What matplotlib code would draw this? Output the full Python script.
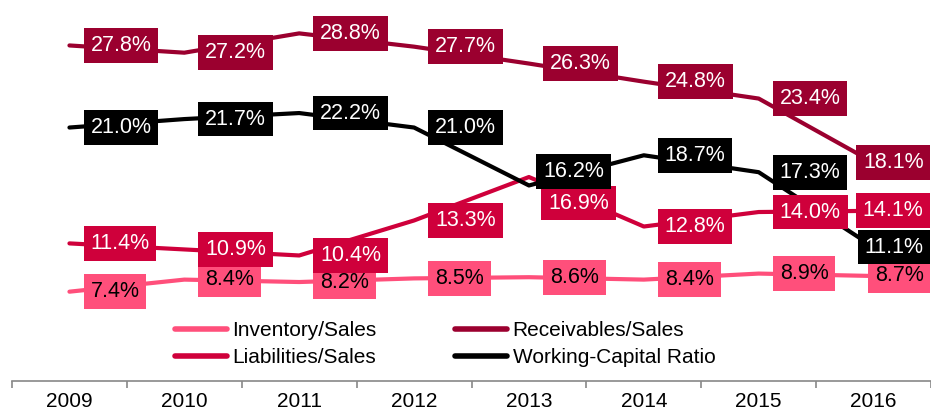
import matplotlib.pyplot as plt
import numpy as np

plt.rcParams['font.family'] = ['Liberation Sans', 'DejaVu Sans']

years = ['2009', '2010', '2011', '2012', '2013', '2014', '2015', '2016']
inventory = [7.4, 8.4, 8.2, 8.5, 8.6, 8.4, 8.9, 8.7]
receivables = [27.8, 27.2, 28.8, 27.7, 26.3, 24.8, 23.4, 18.1]
liabilities = [11.4, 10.9, 10.4, 13.3, 16.9, 12.8, 14.0, 14.1]
working_capital = [21.0, 21.7, 22.2, 21.0, 16.2, 18.7, 17.3, 11.1]

series = [
    ('Inventory/Sales', inventory, '#FF4F7B', 'black'),
    ('Receivables/Sales', receivables, '#9B002F', 'white'),
    ('Liabilities/Sales', liabilities, '#CF003B', 'white'),
    ('Working-Capital Ratio', working_capital, '#000000', 'white'),
]

# label offsets in pixels (dx, dy) for the few labels that were moved
special = {('Liabilities/Sales', 4): (19, -26), ('Working-Capital Ratio', 4): (14, 14)}

fig = plt.figure(figsize=(9.31, 4.12), dpi=100)
ax = fig.add_axes([12 / 931, 31 / 412, 919 / 931, 381 / 412])

x = np.arange(len(years))
lines = {}
for name, vals, col, tcol in series:
    ln, = ax.plot(x, vals, color=col, lw=3, solid_capstyle='round', label=name)
    lines[name] = ln
    for i, v in enumerate(vals):
        if i == len(vals) - 1:
            dx, dy, ha = 50, 0, 'right'
        else:
            dx, dy = special.get((name, i), (21, 0))
            ha = 'left'
        ax.annotate(f'{v:.1f}%', (i, v), xytext=(dx, dy), textcoords='offset pixels',
                    ha=ha, va='center', fontsize=15.5, color=tcol, zorder=10,
                    bbox=dict(boxstyle='square,pad=0.32', fc=col, ec='none'))

ax.set_xlim(-0.5, 7.5)
ax.set_ylim(0, 381 / 12.07)
ax.set_xticks(x)
ax.set_xticklabels(years, fontsize=15)
ax.set_xticks(np.arange(-0.5, 8, 1), minor=True)
ax.tick_params(axis='x', which='major', length=0, pad=8)
ax.tick_params(axis='x', which='minor', length=5, color='#888888', width=1.2)
ax.set_yticks([])
for s in ['top', 'left', 'right']:
    ax.spines[s].set_visible(False)
ax.spines['bottom'].set_color('#888888')
ax.spines['bottom'].set_linewidth(1.2)

order = ['Inventory/Sales', 'Liabilities/Sales', 'Receivables/Sales', 'Working-Capital Ratio']
leg = fig.legend([lines[n] for n in order], order, loc='center', ncol=2,
                 bbox_to_anchor=(445 / 931, 1 - 344 / 412), frameon=False,
                 fontsize=15, handlelength=2.5, handletextpad=0.25,
                 columnspacing=3.8, labelspacing=0.4)
for h in leg.get_lines():
    h.set_linewidth(4)

fig.savefig('out.png', dpi=100)
